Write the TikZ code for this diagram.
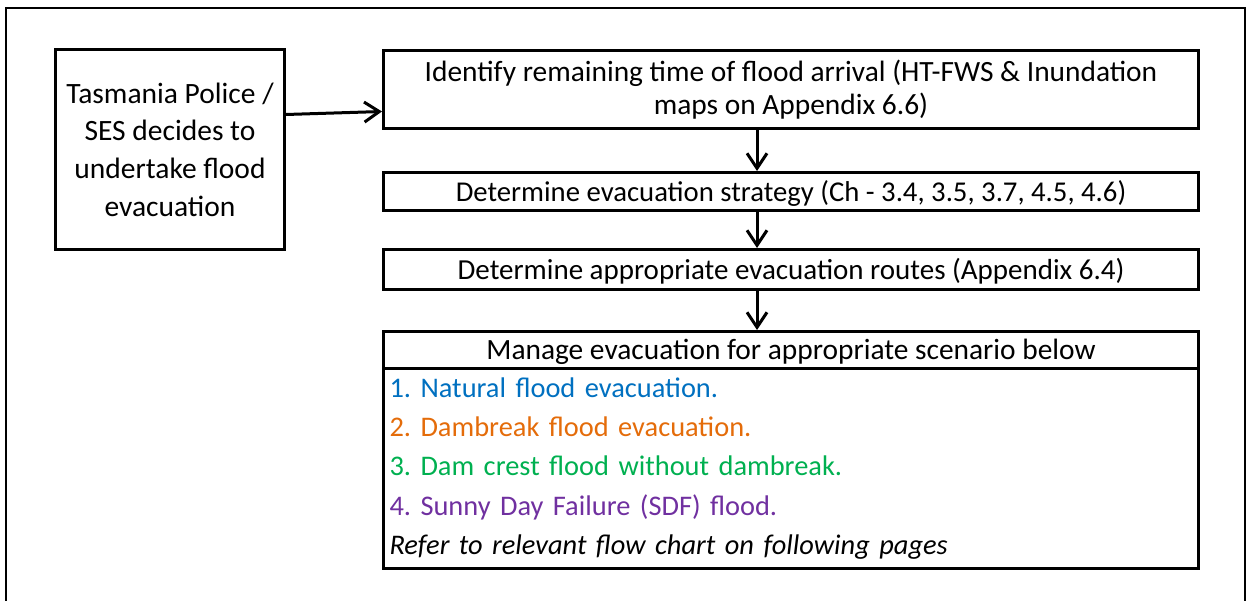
\documentclass[tikz,border=0pt]{standalone}
\usepackage{fontspec}
\setmainfont{Carlito}
\usetikzlibrary{arrows.meta}
\definecolor{itemblue}{RGB}{0,112,192}
\definecolor{itemorange}{RGB}{228,108,10}
\definecolor{itemgreen}{RGB}{0,176,80}
\definecolor{itempurple}{RGB}{112,48,160}
\frenchspacing
\begin{document}
\begin{tikzpicture}[x=1pt,y=-1pt,
  box/.style={draw, line width=3pt, inner sep=0pt, align=center, anchor=north west},
  arr/.style={line width=3pt, -{Straight Barb[length=15pt,width=20pt]}}]
\useasboundingbox (0,0) rectangle (1247,601);
% page frame
\draw[line width=2pt] (6,601) -- (6,8) -- (1245,8) -- (1245,601);
% decision box
\node[box, minimum width=229pt, minimum height=200pt,
      font=\fontsize{29.5}{37.7}\selectfont] (tas) at (54,48)
  {Tasmania Police /\\SES decides to\\undertake flood\\evacuation};
% process steps
\node[box, minimum width=815pt, minimum height=78pt,
      font=\fontsize{29.4}{33}\selectfont] (arrival) at (382,49)
  {Identify remaining time of flood arrival (HT-FWS \& Inundation\\maps on Appendix 6.6)};
\node[box, minimum width=815pt, text height=29pt, text depth=9pt,
      font=\fontsize{28.7}{33}\selectfont] (strategy) at (382,171)
  {Determine evacuation strategy (Ch - 3.4, 3.5, 3.7, 4.5, 4.6)};
\node[box, minimum width=815pt, text height=30.5pt, text depth=9.5pt,
      font=\fontsize{29}{33}\selectfont] (routes) at (382,248)
  {Determine appropriate evacuation routes (Appendix 6.4)};
\node[box, minimum width=815pt, text height=28.3pt, text depth=8.7pt,
      font=\fontsize{29.4}{33}\selectfont] (manage) at (382,330)
  {Manage evacuation for appropriate scenario below};
\node[draw, line width=3pt, anchor=north west, minimum width=815pt, minimum height=200pt,
      inner xsep=6pt, inner ysep=0pt, text width=803pt, align=left,
      font=\fontsize{28.4}{39.2}\selectfont] (scenarios) at (382,367)
  {\textcolor{itemblue}{1. Natural flood evacuation.}\\
   \textcolor{itemorange}{2. Dambreak flood evacuation.}\\
   \textcolor{itemgreen}{3. Dam crest flood without dambreak.}\\
   \textcolor{itempurple}{4. Sunny Day Failure (SDF) flood.}\\
   \textit{Refer to relevant flow chart on following pages}};
% connectors
\draw[arr] ([yshift=35pt]tas.east) -- ([yshift=-22pt]arrival.west);
\draw[arr] ([xshift=-34pt]arrival.south) -- ([xshift=-34pt]strategy.north);
\draw[arr] ([xshift=-34pt]strategy.south) -- ([xshift=-34pt]routes.north);
\draw[arr] ([xshift=-34pt]routes.south) -- ([xshift=-34pt]manage.north);
\end{tikzpicture}
\end{document}
